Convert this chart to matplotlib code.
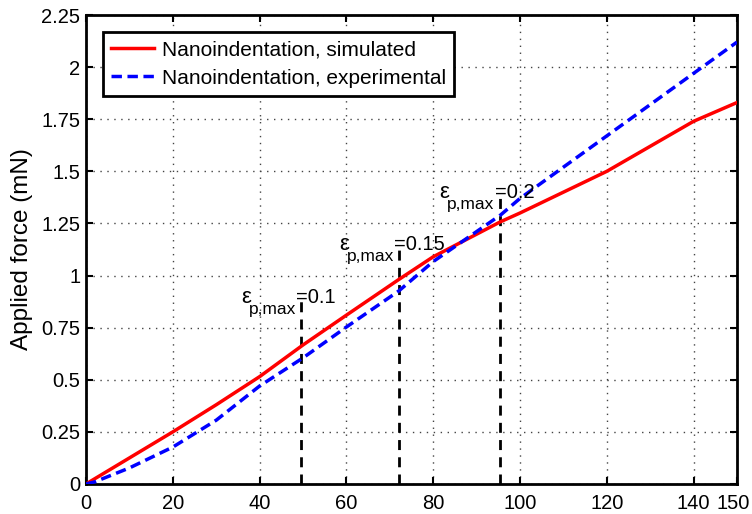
import matplotlib
matplotlib.use("Agg")
import matplotlib.pyplot as plt
from matplotlib.transforms import ScaledTranslation

plt.rcParams['font.family'] = ['Liberation Sans', 'DejaVu Sans']

# Data
x_sim = [0, 10, 20, 30, 40, 50, 60, 72, 80, 95.5, 100, 120, 140, 150]
y_sim = [0, 0.125, 0.25, 0.38, 0.515, 0.667, 0.81, 0.98, 1.09, 1.258, 1.30, 1.50, 1.74, 1.83]
x_exp = [0, 2, 10, 20, 30, 40, 50, 60, 72, 80, 95.5, 100, 110, 120, 140, 150]
y_exp = [0, 0.01, 0.077, 0.177, 0.306, 0.47, 0.605, 0.753, 0.925, 1.067, 1.29, 1.37, 1.52, 1.67, 1.97, 2.12]
eps_x = [49.5, 72.2, 95.3]
eps_top = [0.88, 1.13, 1.38]
eps_labels = ['0.1', '0.15', '0.2']
xticks = [0, 20, 40, 60, 80, 100, 120, 140, 150]
yticks = [0, 0.25, 0.5, 0.75, 1, 1.25, 1.5, 1.75, 2, 2.25]
ytick_labels = ['0', '0.25', '0.5', '0.75', '1', '1.25', '1.5', '1.75', '2', '2.25']

fig = plt.figure(figsize=(7.52, 5.14), dpi=100)
ax = fig.add_axes([0.1144, 0.0584, 0.8656, 0.9124])

ax.plot(x_sim, y_sim, color='#ff0000', lw=2.5, label='Nanoindentation, simulated', zorder=3)
ax.plot(x_exp, y_exp, color='#0000ff', lw=2.5, ls=(0, (3, 1.6)),
        label='Nanoindentation, experimental', zorder=3)

px = 0.72  # points per pixel at 100 dpi
for xv, top, lab in zip(eps_x, eps_top, eps_labels):
    ax.plot([xv, xv], [0, top], color='black', lw=2, ls=(0, (3.6, 2.6)), zorder=2)
    ax.annotate('=' + lab, xy=(xv, top), xytext=(-5 * px, -2 * px), textcoords='offset points',
                ha='left', va='baseline', fontsize=14.5, zorder=4)
    ax.annotate('p,max', xy=(xv, top), xytext=(-5 * px, -13 * px), textcoords='offset points',
                ha='right', va='baseline', fontsize=12.5, zorder=4)
    ax.annotate('ε', xy=(xv, top), xytext=(-50 * px, -2 * px), textcoords='offset points',
                ha='right', va='baseline', fontsize=16, zorder=4)

ax.set_xlim(0, 150)
ax.set_ylim(0, 2.25)
ax.set_xticks(xticks)
ax.set_yticks(yticks)
ax.set_yticklabels(ytick_labels)
ax.tick_params(direction='in', length=5, width=1.5, top=True, right=True, labelsize=14.5)
ax.tick_params(axis='x', pad=7.5)
ax.tick_params(axis='y', pad=4)
ax.grid(True, ls=(0, (1, 4)), color='#444444', lw=1.0)
for s in ax.spines.values():
    s.set_linewidth(2)
ax.set_ylabel('Applied force (mN)', fontsize=17.5, labelpad=6)

# keep the last x tick label ("150") inside the figure edge
last = ax.get_xticklabels()[-1]
last.set_transform(last.get_transform() + ScaledTranslation(-4 / 100, 0, fig.dpi_scale_trans))

leg = ax.legend(loc='upper left', bbox_to_anchor=(0.026, 0.964), borderaxespad=0,
                fontsize=15, fancybox=False, framealpha=1, edgecolor='black',
                handlelength=2.07, borderpad=0.4, labelspacing=0.45, handletextpad=0.35)
leg.get_frame().set_linewidth(2)

fig.savefig('out.png', dpi=100)
